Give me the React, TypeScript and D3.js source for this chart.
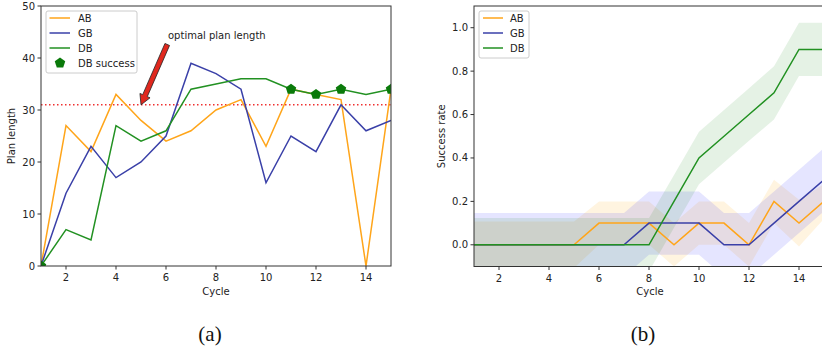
import React from "react";
import * as d3 from "d3";

const cycles = [1, 2, 3, 4, 5, 6, 7, 8, 9, 10, 11, 12, 13, 14, 15];

// (a) plan length
const planAB = [0, 27, 22, 33, 28, 24, 26, 30, 32, 23, 34, 33, 32, 0, 34];
const planGB = [0, 14, 23, 17, 20, 25, 39, 37, 34, 16, 25, 22, 31, 26, 28];
const planDB = [0, 7, 5, 27, 24, 26, 34, 35, 36, 36, 34, 33, 34, 33, 34];
const dbSuccessCycles = [1, 11, 12, 13, 15];
const optimalLength = 31;
const planTicksY = [0, 10, 20, 30, 40, 50];
const cycleTicks = [2, 4, 6, 8, 10, 12, 14];

// (b) success rate
const rateAB = [0, 0, 0, 0, 0, 0.1, 0.1, 0.1, 0, 0.1, 0.1, 0, 0.2, 0.1, 0.2];
const errAB = [0.107, 0.107, 0.107, 0.107, 0.107, 0.1, 0.1, 0.1, 0.1, 0.1, 0.1, 0.1, 0.1, 0.108, 0.08];
const rateGB = [0, 0, 0, 0, 0, 0, 0, 0.1, 0.1, 0.1, 0, 0, 0.1, 0.2, 0.3];
const errGB = [0.146, 0.146, 0.146, 0.146, 0.146, 0.146, 0.146, 0.146, 0.146, 0.146, 0.146, 0.146, 0.146, 0.146, 0.146];
const rateDB = [0, 0, 0, 0, 0, 0, 0, 0, 0.2, 0.4, 0.5, 0.6, 0.7, 0.9, 0.9];
const errDB = [0.123, 0.123, 0.123, 0.123, 0.123, 0.123, 0.123, 0.123, 0.122, 0.121, 0.121, 0.121, 0.123, 0.123, 0.123];
const rateTicksY = [0, 0.2, 0.4, 0.6, 0.8, 1.0];

const C_AB = "#ffa51a";
const C_GB = "#3a40a8";
const C_DB = "#229122";
const C_MARK = "#0a7a0a";
const FONT = "DejaVu Sans, sans-serif";
const SPINE = "#333";

const xA = d3.scaleLinear().domain([1, 15]).range([41, 391]);
const yA = d3.scaleLinear().domain([0, 50]).range([266, 6]);
const xB = d3.scaleLinear().domain([1, 15]).range([474, 824]);
const yB = d3.scaleLinear().domain([-0.1, 1.1]).range([266.5, 6]);

function pentagon(cx: number, cy: number, r: number) {
  const pts = d3.range(5).map((k) => {
    const a = (-90 + 72 * k) * (Math.PI / 180);
    return [cx + r * Math.cos(a), cy + r * Math.sin(a)];
  });
  return "M" + pts.map((p) => p.join(",")).join("L") + "Z";
}

function Axes({ x, y, yTicks, fmt, ylabel, ylabelX }: any) {
  const [x0, x1] = x.range();
  const [y1, y0] = y.range();
  return (
    <g fontFamily={FONT} fontSize={10} fill="#222">
      <rect x={x0} y={y0} width={x1 - x0} height={y1 - y0} fill="none" stroke={SPINE} strokeWidth={1} />
      {cycleTicks.map((t) => (
        <g key={"x" + t}>
          <line x1={x(t)} x2={x(t)} y1={y1} y2={y1 + 3.5} stroke={SPINE} />
          <text x={x(t)} y={y1 + 15} textAnchor="middle">{t}</text>
        </g>
      ))}
      {yTicks.map((t: number) => (
        <g key={"y" + t}>
          <line x1={x0 - 3.5} x2={x0} y1={y(t)} y2={y(t)} stroke={SPINE} />
          <text x={x0 - 6} y={y(t) + 3.5} textAnchor="end">{fmt(t)}</text>
        </g>
      ))}
      <text x={(x0 + Math.min(x1, 391 + 433 - 433)) / 2} y={295} textAnchor="middle">Cycle</text>
      <text transform={`translate(${ylabelX},${(y0 + y1) / 2}) rotate(-90)`} textAnchor="middle">{ylabel}</text>
    </g>
  );
}

export default function App() {
  const lineA = (vals: number[]) =>
    d3.line<number>().x((_, i) => xA(cycles[i])).y((v) => yA(v))(vals) || "";
  const lineB = (vals: number[]) =>
    d3.line<number>().x((_, i) => xB(cycles[i])).y((v) => yB(v))(vals) || "";
  const bandB = (vals: number[], err: number[]) =>
    d3
      .area<number>()
      .x((_, i) => xB(cycles[i]))
      .y0((v, i) => yB(v - err[i]))
      .y1((v, i) => yB(v + err[i]))(vals) || "";

  // arrow annotation (data coords)
  const tip = [xA(5), yA(31)];
  const tail = [xA(6.05), yA(42.6)];
  const dx = tip[0] - tail[0];
  const dy = tip[1] - tail[1];
  const len = Math.hypot(dx, dy);
  const ux = dx / len, uy = dy / len;
  const px = -uy, py = ux;
  const hw = 5.5, tw = 2.5, hl = 10;
  const bx = tip[0] - ux * hl, by = tip[1] - uy * hl;
  const arrowPts = [
    [tail[0] + px * tw, tail[1] + py * tw],
    [bx + px * tw, by + py * tw],
    [bx + px * hw, by + py * hw],
    tip,
    [bx - px * hw, by - py * hw],
    [bx - px * tw, by - py * tw],
    [tail[0] - px * tw, tail[1] - py * tw],
  ];

  const xBcycleCenter = (474 + 824) / 2 - 24;

  return (
    <svg width={822} height={351} style={{ position: "absolute", left: 0, top: 0, background: "#fff" }}>
      <defs>
        <clipPath id="clipA">
          <rect x={41} y={6} width={350} height={260} />
        </clipPath>
        <clipPath id="clipB">
          <rect x={474} y={6} width={350} height={260.5} />
        </clipPath>
      </defs>
      <rect x={0} y={0} width={822} height={351} fill="#fff" />

      {/* (a) */}
      <g clipPath="url(#clipA)">
        <line x1={41} x2={391} y1={yA(optimalLength)} y2={yA(optimalLength)} stroke="#f03030" strokeWidth={1.5} strokeDasharray="1.5,2.5" />
        <path d={lineA(planAB)} fill="none" stroke={C_AB} strokeWidth={1.5} />
        <path d={lineA(planGB)} fill="none" stroke={C_GB} strokeWidth={1.5} />
        <path d={lineA(planDB)} fill="none" stroke={C_DB} strokeWidth={1.5} />
        {dbSuccessCycles.map((c) => (
          <path key={c} d={pentagon(xA(c), yA(planDB[cycles.indexOf(c)]), 5.5)} fill={C_MARK} />
        ))}
      </g>
      <polygon points={arrowPts.map((p) => p.join(",")).join(" ")} fill="#e0281e" stroke="#222" strokeWidth={0.8} />
      <text x={168} y={39} fontFamily={FONT} fontSize={10} fill="#222">optimal plan length</text>
      <g>
        <rect x={46} y={11} width={91} height={62} rx={2} fill="#fff" fillOpacity={0.85} stroke="#ccc" />
        {[["AB", C_AB], ["GB", C_GB], ["DB", C_DB]].map(([n, c], i) => (
          <g key={n}>
            <line x1={49.5} x2={70} y1={18 + 15 * i} y2={18 + 15 * i} stroke={c} strokeWidth={1.5} />
            <text x={78} y={22 + 15 * i} fontFamily={FONT} fontSize={10} fill="#222">{n}</text>
          </g>
        ))}
        <path d={pentagon(60, 63, 5.5)} fill={C_MARK} />
        <text x={78} y={67} fontFamily={FONT} fontSize={10} fill="#222">DB success</text>
      </g>
      <Axes x={xA} y={yA} yTicks={planTicksY} fmt={(t: number) => String(t)} ylabel="Plan length" ylabelX={15} />

      {/* (b) */}
      <g clipPath="url(#clipB)">
        <path d={bandB(rateAB, errAB)} fill="#ffa500" fillOpacity={0.12} />
        <path d={bandB(rateGB, errGB)} fill="#0000ff" fillOpacity={0.1} />
        <path d={bandB(rateDB, errDB)} fill="#008000" fillOpacity={0.1} />
        <path d={lineB(rateAB)} fill="none" stroke={C_AB} strokeWidth={1.5} />
        <path d={lineB(rateGB)} fill="none" stroke={C_GB} strokeWidth={1.5} />
        <path d={lineB(rateDB)} fill="none" stroke={C_DB} strokeWidth={1.5} />
      </g>
      <g>
        <rect x={479} y={11} width={50} height={47} rx={2} fill="#fff" fillOpacity={0.85} stroke="#ccc" />
        {[["AB", C_AB], ["GB", C_GB], ["DB", C_DB]].map(([n, c], i) => (
          <g key={n}>
            <line x1={483} x2={503} y1={18 + 15 * i} y2={18 + 15 * i} stroke={c} strokeWidth={1.5} />
            <text x={510} y={22 + 15 * i} fontFamily={FONT} fontSize={10} fill="#222">{n}</text>
          </g>
        ))}
      </g>
      <g fontFamily={FONT} fontSize={10} fill="#222">
        <rect x={474} y={6} width={350} height={260.5} fill="none" stroke={SPINE} strokeWidth={1} />
        {cycleTicks.map((t) => (
          <g key={"bx" + t}>
            <line x1={xB(t)} x2={xB(t)} y1={266.5} y2={270} stroke={SPINE} />
            <text x={xB(t)} y={281.5} textAnchor="middle">{t}</text>
          </g>
        ))}
        {rateTicksY.map((t) => (
          <g key={"by" + t}>
            <line x1={470.5} x2={474} y1={yB(t)} y2={yB(t)} stroke={SPINE} />
            <text x={468} y={yB(t) + 3.5} textAnchor="end">{t.toFixed(1)}</text>
          </g>
        ))}
        <text x={650} y={295} textAnchor="middle">Cycle</text>
        <text transform={`translate(445,${(6 + 266.5) / 2}) rotate(-90)`} textAnchor="middle">Success rate</text>
      </g>

      <text x={210} y={341} textAnchor="middle" fontFamily="Liberation Serif, serif" fontSize={21} fill="#111">(a)</text>
      <text x={643} y={341} textAnchor="middle" fontFamily="Liberation Serif, serif" fontSize={21} fill="#111">(b)</text>
    </svg>
  );
}
